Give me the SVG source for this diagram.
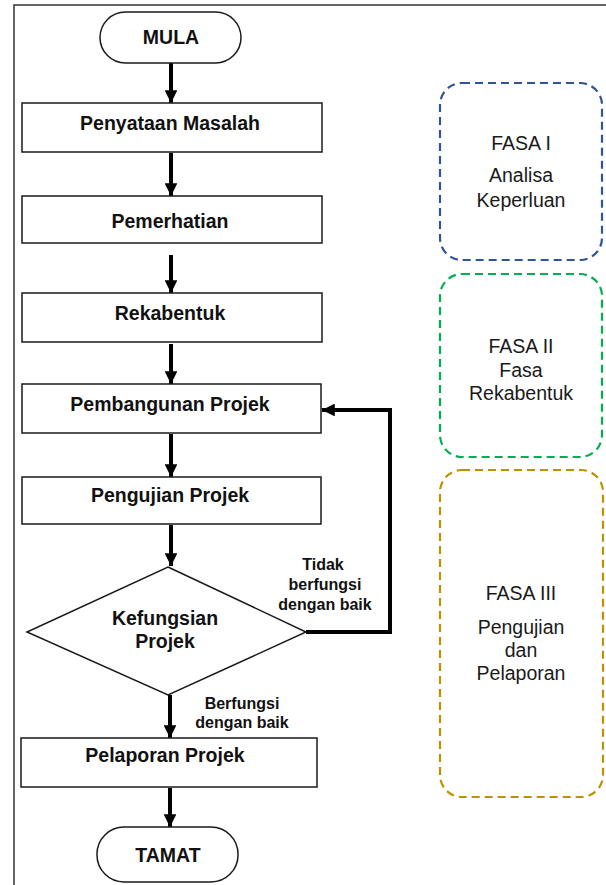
<svg xmlns="http://www.w3.org/2000/svg" width="606" height="885" viewBox="0 0 606 885">
<defs>
<style>
.box{fill:#fff;stroke:#1a1a1a;stroke-width:1.5}
.t{font-family:"Liberation Sans",Arial,sans-serif;font-weight:bold;font-size:19.5px;fill:#111;text-anchor:middle}
.lb{font-family:"Liberation Sans",Arial,sans-serif;font-weight:bold;font-size:16px;fill:#111;text-anchor:middle}
.ft{font-family:"Liberation Sans",Arial,sans-serif;font-size:19.5px;fill:#1a1a1a;text-anchor:middle}
.con{fill:none;stroke:#000;stroke-width:4}
.ph{fill:none;stroke-width:2.2;stroke-dasharray:8 5}
</style>
<marker id="ah" viewBox="0 0 10 10" refX="10" refY="5" markerWidth="3.2" markerHeight="3.2" orient="auto" markerUnits="strokeWidth">
<path d="M0,0 L10,5 L0,10 z" fill="#000"/>
</marker>
</defs>
<rect width="606" height="885" fill="#fff"/>
<path d="M14,885 V5 H606" fill="none" stroke="#333" stroke-width="1.5"/>

<g id="connectors">
<line class="con" x1="171" y1="63" x2="171" y2="103" marker-end="url(#ah)"/>
<line class="con" x1="171" y1="153" x2="171" y2="196" marker-end="url(#ah)"/>
<line class="con" x1="171" y1="255" x2="171" y2="293" marker-end="url(#ah)"/>
<line class="con" x1="171" y1="344" x2="171" y2="384" marker-end="url(#ah)"/>
<line class="con" x1="171" y1="434" x2="171" y2="477" marker-end="url(#ah)"/>
<line class="con" x1="171" y1="525" x2="171" y2="566" marker-end="url(#ah)"/>
<line class="con" x1="170" y1="695" x2="170" y2="738" marker-end="url(#ah)"/>
<line class="con" x1="170" y1="788" x2="170" y2="827" marker-end="url(#ah)"/>
<polyline class="con" points="306,632 390,632 390,410 322,410" marker-end="url(#ah)"/>
<text class="lb" x="323" y="570">Tidak</text>
<text class="lb" x="325" y="590">berfungsi</text>
<text class="lb" x="325" y="610">dengan baik</text>
<text class="lb" x="242" y="709">Berfungsi</text>
<text class="lb" x="242" y="728">dengan baik</text>
</g>

<g id="mula">
<rect class="box" x="100" y="12" width="141" height="51" rx="25.5"/>
<text class="t" x="171" y="44">MULA</text>
</g>
<g id="penyataan">
<rect class="box" x="22" y="103" width="300" height="49"/>
<text class="t" x="170" y="130">Penyataan Masalah</text>
</g>
<g id="pemerhatian">
<rect class="box" x="22" y="196" width="300" height="47"/>
<text class="t" x="170" y="228">Pemerhatian</text>
</g>
<g id="rekabentuk">
<rect class="box" x="22" y="293" width="300" height="49"/>
<text class="t" x="170" y="320">Rekabentuk</text>
</g>
<g id="pembangunan">
<rect class="box" x="22" y="384" width="299" height="49"/>
<text class="t" x="170" y="411">Pembangunan Projek</text>
</g>
<g id="pengujian">
<rect class="box" x="22" y="477" width="299" height="47"/>
<text class="t" x="170" y="502">Pengujian Projek</text>
</g>
<g id="kefungsian">
<polygon class="box" points="168,567 306,632 168,695 27,632"/>
<text class="t" x="165" y="625">Kefungsian</text>
<text class="t" x="165" y="648">Projek</text>
</g>
<g id="pelaporan">
<rect class="box" x="21" y="738" width="296" height="49"/>
<text class="t" x="165" y="762">Pelaporan Projek</text>
</g>
<g id="tamat">
<rect class="box" x="97" y="827" width="141" height="55" rx="27"/>
<text class="t" x="168" y="862">TAMAT</text>
</g>

<g id="fasa1">
<rect class="ph" x="440" y="83" width="162" height="177" rx="22" stroke="#2F5597"/>
<text class="ft" x="521" y="150">FASA I</text>
<text class="ft" x="521" y="182">Analisa</text>
<text class="ft" x="521" y="207">Keperluan</text>
</g>
<g id="fasa2">
<rect class="ph" x="440" y="274" width="162" height="183" rx="22" stroke="#00B050"/>
<text class="ft" x="521" y="353">FASA II</text>
<text class="ft" x="521" y="377">Fasa</text>
<text class="ft" x="521" y="400">Rekabentuk</text>
</g>
<g id="fasa3">
<rect class="ph" x="440" y="470" width="163" height="327" rx="22" stroke="#BF9000"/>
<text class="ft" x="521" y="600">FASA III</text>
<text class="ft" x="521" y="634">Pengujian</text>
<text class="ft" x="521" y="657">dan</text>
<text class="ft" x="521" y="680">Pelaporan</text>
</g>
</svg>
